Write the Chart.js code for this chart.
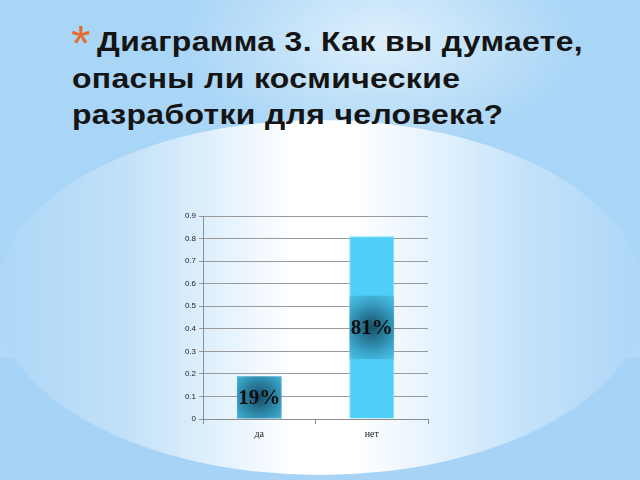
<!DOCTYPE html>
<html>
<head>
<meta charset="utf-8">
<script src="https://cdn.jsdelivr.net/npm/chart.js@4"></script>
<style>
  html, body { margin: 0; padding: 0; }
  body {
    width: 640px; height: 480px; overflow: hidden; position: relative;
    background:
      radial-gradient(ellipse 200px 110px at 380px 40px, rgba(230,244,253,0.85), rgba(230,244,253,0) 100%),
      linear-gradient(to bottom, #a9d5f6 0px, #a9d5f6 265px, #b1d9f7 265px, #b1d9f7 357px, #a6d3f6 357px);
  }
  #glow {
    position: absolute; left: -5px; top: 120px; width: 650px; height: 355px;
    border-radius: 50%;
    background: linear-gradient(to right, #acd6f7 0%, #c2e1f9 20%, #e6f3fd 36%, #ffffff 46%, #ffffff 55%, #e8f4fe 66%, #c3e2fa 82%, #acd6f7 100%);
  }
  #title {
    position: absolute; left: 72px; top: 24px; width: 500px;
    font-family: "Liberation Sans", Arial, sans-serif; font-weight: bold;
    font-size: 28px; line-height: 36.5px; color: #141414;
    letter-spacing: 0.3px;
    transform: scaleX(1.14); transform-origin: 0 0; white-space: nowrap;
  }
  #star {
    position: absolute; left: 71px; top: 19px;
    font-family: "Liberation Sans", Arial, sans-serif;
    font-size: 50px; line-height: 50px; color: #ea6a2b;
  }
  #wrap { position: absolute; left: 170px; top: 205px; width: 270px; height: 245px; }
</style>
</head>
<body>
<div id="glow"></div>
<div id="star">*</div>
<div id="title"><span style="padding-left:22px">Диаграмма 3. Как вы думаете,</span><br>опасны ли космические<br>разработки для человека?</div>
<div id="wrap"><canvas id="myChart"></canvas></div>
<script>
const categories = ['да', 'нет'];
const answers = [0.19, 0.81];
const answerLabels = ['19%', '81%'];
const yTicks = [0, 0.1, 0.2, 0.3, 0.4, 0.5, 0.6, 0.7, 0.8, 0.9];

// label in the middle of each bar, with a dark glow box clipped to the bar
const barLabels = {
  id: 'barLabels',
  afterDatasetsDraw(chart) {
    const ctx = chart.ctx;
    const meta = chart.getDatasetMeta(0);
    meta.data.forEach((bar, i) => {
      const p = bar.getProps(['x', 'y', 'base', 'width'], true);
      const cy = (p.y + p.base) / 2;
      const left = p.x - p.width / 2;
      const top = Math.max(p.y, cy - 32);
      const bottom = Math.min(p.base, cy + 32);
      ctx.save();
      ctx.beginPath();
      ctx.rect(left, top, p.width, bottom - top);
      ctx.clip();
      const g = ctx.createRadialGradient(p.x, cy, 0, p.x, cy, 40);
      g.addColorStop(0, 'rgba(20,68,92,0.95)');
      g.addColorStop(0.4, 'rgba(32,105,135,0.75)');
      g.addColorStop(1, 'rgba(60,170,210,0.35)');
      ctx.fillStyle = g;
      ctx.fillRect(left, cy - 32, p.width, 64);
      ctx.restore();
      ctx.save();
      ctx.font = 'bold 21px "Liberation Serif", "Times New Roman", serif';
      ctx.textAlign = 'center';
      ctx.textBaseline = 'middle';
      ctx.fillStyle = '#0c0c0c';
      ctx.fillText(answerLabels[i], p.x, cy + 1);
      ctx.restore();
    });
  }
};

const ctx = document.getElementById('myChart').getContext('2d');
const myChart = new Chart(ctx, {
  type: 'bar',
  data: {
    labels: categories,
    datasets: [{
      data: answers,
      backgroundColor: '#4fcff7',
      borderColor: '#78dcfa',
      borderWidth: 1,
      categoryPercentage: 0.8,
      barPercentage: 0.5
    }]
  },
  options: {
    responsive: true,
    maintainAspectRatio: false,
    animation: false,
    layout: { padding: { top: 11, right: 12, left: 0, bottom: 0 } },
    plugins: { legend: { display: false }, tooltip: { enabled: false } },
    scales: {
      x: {
        offset: true,
        grid: { offset: true, drawOnChartArea: false, color: '#8c8c8c', tickLength: 5 },
        border: { color: '#8c8c8c' },
        ticks: { color: '#222', padding: 4, font: { family: '"Liberation Serif", serif', size: 10 } },
        afterFit: s => { s.height = 31; }
      },
      y: {
        min: 0, max: 0.9,
        afterBuildTicks: s => { s.ticks = yTicks.map(v => ({ value: v })); },
        grid: { color: '#9a9a9a', tickLength: 4 },
        border: { color: '#8c8c8c' },
        ticks: {
          color: '#222', padding: 3,
          font: { family: '"Liberation Sans Narrow", "Liberation Sans", sans-serif', size: 8 },
          callback: v => v === 0 ? '0' : v.toFixed(1)
        },
        afterFit: s => { s.width = 33; }
      }
    }
  },
  plugins: [barLabels]
});
</script>
</body>
</html>
